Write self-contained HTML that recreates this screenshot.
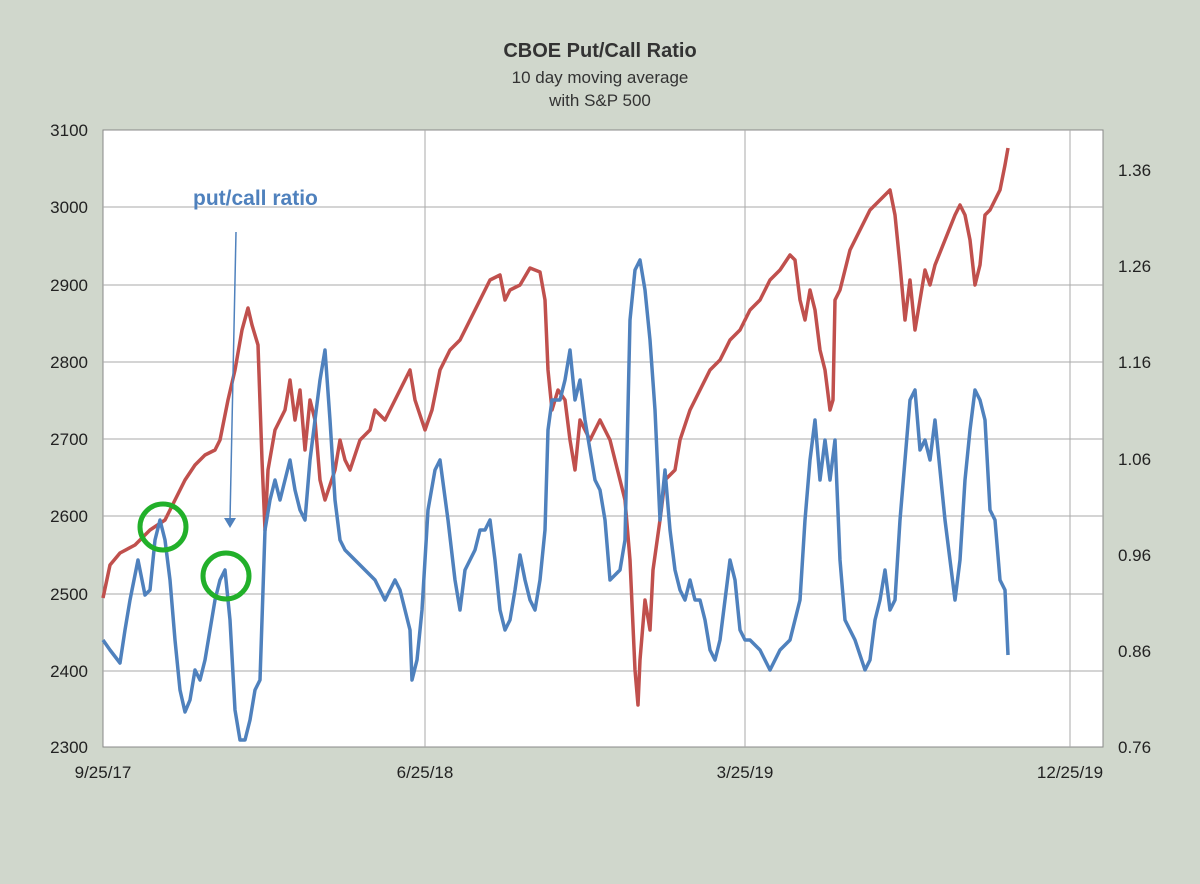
<!DOCTYPE html>
<html><head><meta charset="utf-8"><style>
body{margin:0;background:#d0d7cc;}
svg{display:block;font-family:"Liberation Sans",sans-serif;}
</style></head><body>
<svg width="1200" height="884" viewBox="0 0 1200 884">
<rect width="1200" height="884" fill="#d0d7cc"/>
<text x="600" y="57" text-anchor="middle" font-size="20" font-weight="bold" fill="#333">CBOE Put/Call Ratio</text>
<text x="600" y="83" text-anchor="middle" font-size="17" fill="#333">10 day moving average</text>
<text x="600" y="106" text-anchor="middle" font-size="17" fill="#333">with S&amp;P 500</text>
<rect x="103" y="130" width="1000" height="617" fill="#fff" stroke="#888"/>
<g stroke="#aaa" stroke-width="1">
<line x1="103" x2="1103" y1="207" y2="207"/><line x1="103" x2="1103" y1="285" y2="285"/>
<line x1="103" x2="1103" y1="362" y2="362"/><line x1="103" x2="1103" y1="439" y2="439"/>
<line x1="103" x2="1103" y1="516" y2="516"/><line x1="103" x2="1103" y1="594" y2="594"/>
<line x1="103" x2="1103" y1="671" y2="671"/>
<line x1="425" x2="425" y1="130" y2="747"/><line x1="745" x2="745" y1="130" y2="747"/><line x1="1070" x2="1070" y1="130" y2="747"/>
</g>
<g font-size="17" fill="#222" text-anchor="end">
<text x="88" y="136">3100</text><text x="88" y="213">3000</text><text x="88" y="291">2900</text>
<text x="88" y="368">2800</text><text x="88" y="445">2700</text><text x="88" y="522">2600</text>
<text x="88" y="600">2500</text><text x="88" y="677">2400</text><text x="88" y="753">2300</text>
</g>
<g font-size="17" fill="#222">
<text x="1118" y="176">1.36</text><text x="1118" y="272">1.26</text><text x="1118" y="368">1.16</text>
<text x="1118" y="465">1.06</text><text x="1118" y="561">0.96</text><text x="1118" y="657">0.86</text>
<text x="1118" y="753">0.76</text>
</g>
<g font-size="17" fill="#222" text-anchor="middle">
<text x="103" y="778">9/25/17</text><text x="425" y="778">6/25/18</text><text x="745" y="778">3/25/19</text><text x="1070" y="778">12/25/19</text>
</g>
<polyline fill="none" stroke="#c0504d" stroke-width="3.5" stroke-linejoin="round" points="103,598 110,565 120,553 135,545 150,530 165,520 175,500 185,480 195,465 205,455 215,450 220,440 228,400 235,370 242,330 248,308 252,325 258,345 262,460 265,530 268,470 275,430 285,410 290,380 295,420 300,390 305,450 310,400 315,420 320,480 325,500 330,485 335,470 340,440 345,460 350,470 360,440 370,430 375,410 385,420 395,400 405,380 410,370 415,400 425,430 432,410 440,370 450,350 460,340 470,320 480,300 490,280 500,275 505,300 510,290 520,285 530,268 540,272 545,300 548,370 552,410 558,390 565,400 570,440 575,470 580,420 590,440 600,420 610,440 620,480 625,500 630,560 635,670 638,705 640,660 645,600 650,630 653,570 660,520 665,480 675,470 680,440 690,410 700,390 710,370 720,360 730,340 740,330 750,310 760,300 770,280 780,270 790,255 795,260 800,300 805,320 810,290 815,310 820,350 825,370 830,410 833,400 835,300 840,290 850,250 860,230 870,210 880,200 890,190 895,215 900,265 905,320 910,280 915,330 920,300 925,270 930,285 935,265 945,240 955,215 960,205 965,215 970,240 975,285 980,265 985,215 990,210 1000,190 1005,165 1008,148"/>
<polyline fill="none" stroke="#4f81bd" stroke-width="3.5" stroke-linejoin="round" points="103,640 110,650 120,663 125,630 130,600 138,560 145,595 150,590 155,540 160,520 165,540 170,580 175,640 180,690 185,712 190,700 195,670 200,680 205,660 210,630 215,600 220,580 225,570 230,620 235,710 240,740 245,740 250,720 255,690 260,680 265,530 270,500 275,480 280,500 285,480 290,460 295,490 300,510 305,520 310,460 315,420 320,380 325,350 330,420 335,500 340,540 345,550 355,560 365,570 375,580 385,600 395,580 400,590 410,630 412,680 417,660 422,610 428,510 435,470 440,460 448,520 455,580 460,610 465,570 470,560 475,550 480,530 485,530 490,520 495,560 500,610 505,630 510,620 515,590 520,555 525,580 530,600 535,610 540,580 545,530 548,430 552,400 560,400 565,380 570,350 575,400 580,380 585,420 590,450 595,480 600,490 605,520 610,580 620,570 625,540 630,320 635,270 640,260 645,290 650,340 655,410 660,520 665,470 670,530 675,570 680,590 685,600 690,580 695,600 700,600 705,620 710,650 715,660 720,640 725,600 730,560 735,580 740,630 745,640 750,640 760,650 770,670 780,650 790,640 800,600 805,520 810,460 815,420 820,480 825,440 830,480 835,440 840,560 845,620 855,640 865,670 870,660 875,620 880,600 885,570 890,610 895,600 900,520 910,400 915,390 920,450 925,440 930,460 935,420 940,470 945,520 955,600 960,560 965,480 970,430 975,390 980,400 985,420 990,510 995,520 1000,580 1005,590 1008,655"/>
<text x="193" y="205" font-size="21" font-weight="bold" fill="#4f81bd">put/call ratio</text>
<line x1="236" y1="232" x2="230" y2="520" stroke="#4f81bd" stroke-width="1.5"/>
<polygon points="224,518 236,518 230,528" fill="#4f81bd"/>
<circle cx="163" cy="527" r="23" fill="none" stroke="#22b02a" stroke-width="5"/>
<circle cx="226" cy="576" r="23" fill="none" stroke="#22b02a" stroke-width="5"/>
</svg>
</body></html>
